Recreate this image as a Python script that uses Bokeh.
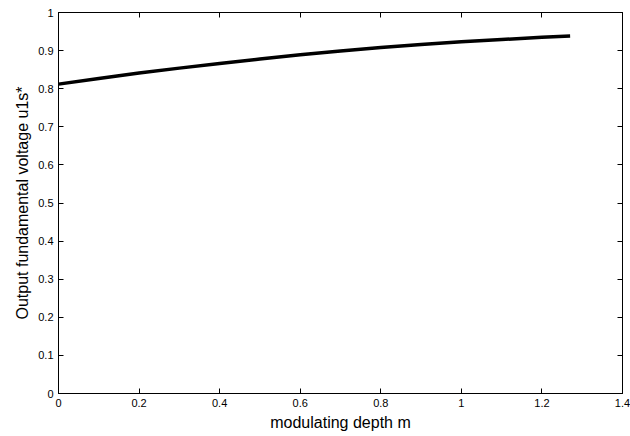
from bokeh.plotting import figure
from bokeh.models import LinearAxis, FixedTicker, Range1d
from bokeh.embed import file_html
from bokeh.resources import INLINE

# data
m_depth = [0.0, 0.1, 0.2, 0.3, 0.4, 0.5, 0.6, 0.7, 0.8, 0.9, 1.0, 1.1, 1.2, 1.27]
u1s = [0.812, 0.827, 0.841, 0.854, 0.866, 0.878, 0.889, 0.899, 0.908, 0.916, 0.923, 0.929, 0.935, 0.938]

x_ticks = [0.0, 0.2, 0.4, 0.6, 0.8, 1.0, 1.2, 1.4]
x_tick_labels = ["0", "0.2", "0.4", "0.6", "0.8", "1", "1.2", "1.4"]
y_ticks = [0.0, 0.1, 0.2, 0.3, 0.4, 0.5, 0.6, 0.7, 0.8, 0.9, 1.0]
y_tick_labels = ["0", "0.1", "0.2", "0.3", "0.4", "0.5", "0.6", "0.7", "0.8", "0.9", "1"]

FONT = "Liberation Sans"

p = figure(width=630, height=436, output_backend="svg", toolbar_location=None,
           x_range=Range1d(0, 1.4), y_range=Range1d(0, 1),
           x_axis_location=None, y_axis_location=None,
           min_border_left=58, min_border_right=8, min_border_top=12, min_border_bottom=43)
p.xgrid.visible = False
p.ygrid.visible = False
p.outline_line_color = "black"
p.outline_line_width = 1
p.background_fill_color = "white"
p.border_fill_color = "white"

def style(ax, ticks, labels, show_labels, title=None):
    ax.ticker = FixedTicker(ticks=ticks)
    ax.minor_tick_line_color = None
    ax.major_tick_in = 5
    ax.major_tick_out = 0
    ax.major_tick_line_color = "black"
    ax.major_tick_line_width = 1
    ax.axis_line_color = "black"
    ax.axis_line_width = 1
    if show_labels:
        ax.major_label_overrides = {t: l for t, l in zip(ticks, labels)}
        ax.major_label_text_font = FONT
        ax.major_label_text_font_size = "11px"
        ax.major_label_text_color = "black"
        ax.major_label_standoff = 5
    else:
        ax.major_label_overrides = {t: "" for t in ticks}
        ax.major_label_text_font_size = "1px"
        ax.major_label_standoff = 0
    if title:
        ax.axis_label = title
        ax.axis_label_text_font = FONT
        ax.axis_label_text_font_size = "16px"
        ax.axis_label_text_font_style = "normal"
        ax.axis_label_text_color = "black"
        ax.axis_label_standoff = 4

bottom = LinearAxis()
style(bottom, x_ticks, x_tick_labels, True, "modulating depth m")
p.add_layout(bottom, "below")
left = LinearAxis()
style(left, y_ticks, y_tick_labels, True, "Output fundamental voltage u1s*")
p.add_layout(left, "left")
top = LinearAxis()
style(top, x_ticks, x_tick_labels, False)
p.add_layout(top, "above")
right = LinearAxis()
style(right, y_ticks, y_tick_labels, False)
p.add_layout(right, "right")

p.line(m_depth, u1s, line_color="black", line_width=3.5)

open("out.html", "w").write(file_html(p, INLINE))
